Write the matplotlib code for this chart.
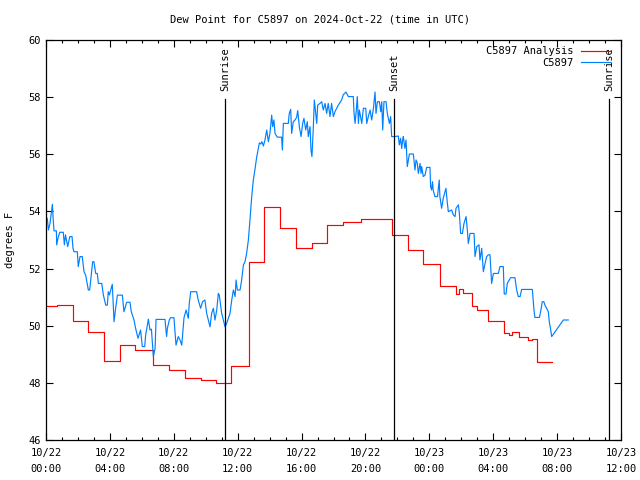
import matplotlib
matplotlib.use("Agg")
import matplotlib.pyplot as plt
from matplotlib.ticker import MultipleLocator, FixedLocator

# ---------------- data ----------------
title = "Dew Point for C5897 on 2024-Oct-22 (time in UTC)"
ylabel = "degrees F"
series_names = ["C5897 Analysis", "C5897"]

# analysis (hours since 2024-10-22 00:00 UTC, step starts)
red_hours = [0.0, 0.68, 1.68, 2.63, 3.63, 4.63, 5.57, 6.7, 7.7, 8.7, 9.7, 10.64,
             11.58, 12.7, 13.65, 14.65, 15.65, 16.65, 17.6, 18.6, 19.7, 21.66,
             22.66, 23.6, 24.67, 25.67, 25.85, 26.1, 26.67, 27.0, 27.7, 28.68,
             29.0, 29.2, 29.6, 30.2, 30.4, 30.72, 31.68]
red_vals = [50.69, 50.72, 50.15, 49.79, 48.77, 49.33, 49.15, 48.63, 48.45, 48.16,
            48.1, 47.98, 48.6, 52.22, 54.17, 53.41, 52.71, 52.88, 53.52, 53.64,
            53.72, 53.19, 52.64, 52.16, 51.39, 51.1, 51.27, 51.13, 50.69, 50.55,
            50.18, 49.76, 49.69, 49.77, 49.6, 49.5, 49.53, 48.72, 48.72]

# observations
blue_hours = [0.0, 0.08, 0.15, 0.25, 0.4, 0.44, 0.5, 0.65, 0.67, 0.75, 0.86, 1.08,
              1.15, 1.22, 1.36, 1.49, 1.63, 1.69, 1.75, 1.96, 2.02, 2.13, 2.27,
              2.38, 2.48, 2.65, 2.73, 2.79, 2.92, 3.0, 3.11, 3.21, 3.28, 3.49,
              3.59, 3.74, 3.84, 3.9, 3.97, 4.15, 4.26, 4.36, 4.47, 4.78, 4.88,
              5.05, 5.26, 5.34, 5.51, 5.61, 5.76, 5.92, 6.03, 6.18, 6.24, 6.41,
              6.51, 6.6, 6.72, 6.83, 6.89, 7.45, 7.55, 7.6, 7.72, 7.8, 8.01, 8.14,
              8.28, 8.39, 8.5, 8.64, 8.77, 8.91, 8.97, 9.06, 9.43, 9.53, 9.68,
              9.8, 9.95, 10.06, 10.16, 10.27, 10.37, 10.48, 10.58, 10.69, 10.79,
              10.85, 11.0, 11.21, 11.31, 11.52, 11.63, 11.73, 11.84, 11.9, 11.98,
              12.15, 12.25, 12.36, 12.46, 12.56, 12.67, 12.77, 12.88, 12.98,
              13.09, 13.19, 13.36, 13.44, 13.52, 13.61, 13.71, 13.82, 13.92,
              14.02, 14.13, 14.19, 14.27, 14.34, 14.48, 14.75, 14.8, 14.86,
              15.17, 15.23, 15.32, 15.38, 15.48, 15.59, 15.69, 15.76, 15.86,
              15.97, 16.07, 16.15, 16.26, 16.36, 16.42, 16.53, 16.59, 16.65,
              16.73, 16.8, 16.95, 17.01, 17.15, 17.26, 17.36, 17.47, 17.57,
              17.67, 17.78, 17.88, 17.99, 18.09, 18.2, 18.3, 18.51, 18.61, 18.78,
              18.93, 19.24, 19.28, 19.35, 19.41, 19.49, 19.56, 19.62, 19.77,
              19.87, 20.02, 20.08, 20.18, 20.29, 20.39, 20.5, 20.6, 20.66, 20.75,
              20.87, 20.96, 21.02, 21.08, 21.16, 21.29, 21.37, 21.5, 21.58,
              21.64, 21.85, 22.06, 22.12, 22.2, 22.27, 22.33, 22.37, 22.47,
              22.54, 22.58, 22.62, 22.75, 23.0, 23.1, 23.17, 23.25, 23.31, 23.42,
              23.48, 23.52, 23.62, 23.73, 23.83, 24.04, 24.08, 24.14, 24.2,
              24.24, 24.35, 24.51, 24.62, 24.66, 24.77, 24.87, 24.98, 25.04,
              25.13, 25.19, 25.4, 25.5, 25.61, 25.67, 25.82, 25.88, 25.96, 26.07,
              26.17, 26.3, 26.38, 26.44, 26.55, 26.8, 26.86, 26.97, 27.11, 27.17,
              27.28, 27.38, 27.49, 27.59, 27.69, 27.8, 27.9, 28.01, 28.32, 28.42,
              28.63, 28.69, 28.8, 28.88, 29.0, 29.09, 29.36, 29.47, 29.57, 29.68,
              29.78, 30.45, 30.55, 30.61, 30.89, 30.97, 31.07, 31.17, 31.24,
              31.34, 31.45, 31.51, 31.6, 31.66, 32.39, 32.7]
blue_vals = [53.76, 53.76, 53.35, 53.58, 54.25, 53.82, 53.32, 53.32, 52.83, 53.06,
             53.27, 53.27, 52.83, 53.18, 52.77, 53.12, 53.12, 52.71, 52.59, 52.59,
             52.07, 52.42, 52.42, 51.89, 51.78, 51.25, 51.25, 51.54, 52.24, 52.24,
             51.83, 51.83, 51.48, 51.48, 51.08, 50.72, 50.72, 51.19, 51.08, 51.45,
             50.14, 50.61, 51.07, 51.07, 50.49, 50.82, 50.82, 50.49, 50.2, 49.91,
             49.56, 49.85, 49.27, 49.27, 49.68, 50.23, 49.85, 49.88, 48.92, 49.21,
             50.22, 50.22, 49.62, 49.91, 50.2, 50.28, 50.28, 49.32, 49.62, 49.5,
             49.32, 50.28, 50.55, 50.26, 50.78, 51.19, 51.19, 50.9, 50.61, 50.84,
             50.9, 50.43, 50.2, 49.96, 50.43, 50.61, 50.2, 50.55, 51.13, 51.07,
             50.43, 49.96, 50.08, 50.43, 50.9, 51.25, 51.02, 51.6, 51.25, 51.25,
             51.6, 52.13, 52.24, 52.53, 53.0, 53.7, 54.52, 55.1, 55.5, 55.9, 56.4,
             56.36, 56.44, 56.29, 56.5, 56.85, 56.44, 56.73, 57.37, 56.97, 57.2,
             56.73, 56.6, 56.6, 56.15, 57.08, 57.08, 57.43, 57.57, 56.73, 57.14,
             57.2, 57.29, 57.53, 56.97, 56.62, 57.08, 57.26, 56.85, 57.14, 56.62,
             56.97, 56.15, 55.92, 56.85, 57.9, 57.08, 57.72, 57.78, 57.84, 57.55,
             57.78, 57.43, 57.78, 57.32, 57.78, 57.32, 57.49, 57.61, 57.72, 57.9,
             58.08, 58.18, 58.02, 58.02, 57.49, 57.08, 57.43, 58.02, 57.08, 57.55,
             57.08, 57.61, 57.61, 57.08, 57.32, 57.55, 57.2, 57.61, 58.18, 57.43,
             57.84, 57.84, 57.49, 57.84, 56.85, 57.84, 57.84, 57.43, 57.08, 57.32,
             56.62, 56.62, 56.64, 56.33, 56.56, 56.2, 56.5, 56.62, 56.21, 56.5,
             56.06, 55.57, 56.01, 56.01, 55.45, 55.8, 55.68, 55.33, 55.68, 55.33,
             55.57, 55.22, 55.27, 55.54, 55.54, 54.87, 54.75, 55.04, 54.75, 54.52,
             54.52, 55.1, 54.52, 54.11, 54.46, 54.69, 54.81, 54.28, 53.99, 54.05,
             53.88, 53.82, 54.11, 54.23, 53.93, 53.23, 53.23, 53.58, 53.82, 53.35,
             52.88, 53.23, 53.23, 52.42, 52.77, 52.83, 52.3, 52.71, 51.89, 52.18,
             52.42, 52.48, 52.48, 51.48, 51.83, 51.83, 52.07, 52.07, 51.11, 51.11,
             51.48, 51.6, 51.68, 51.68, 51.25, 51.02, 51.02, 51.27, 51.27, 50.55,
             50.29, 50.29, 50.49, 50.84, 50.84, 50.72, 50.61, 50.49, 50.14, 49.85,
             49.62, 50.2, 50.2]

sun_events = ["Sunrise", "Sunset", "Sunrise"]
sun_hours = [11.23, 21.81, 35.27]

x_ticks = [0, 4, 8, 12, 16, 20, 24, 28, 32, 36]
x_ticklabels = ["10/22\n00:00", "10/22\n04:00", "10/22\n08:00", "10/22\n12:00",
                "10/22\n16:00", "10/22\n20:00", "10/23\n00:00", "10/23\n04:00",
                "10/23\n08:00", "10/23\n12:00"]
y_ticks = [46, 48, 50, 52, 54, 56, 58, 60]

# ---------------- plot ----------------
FONT = "DejaVu Sans Mono"
plt.rcParams['font.family'] = FONT
plt.rcParams['font.size'] = 7

fig = plt.figure(figsize=(6.4, 4.8), dpi=100)
W, H = 640, 480
L, R, T, B = 46, 621, 40, 440
ax = fig.add_axes([L / W, (H - B) / H, (R - L) / W, (B - T) / H])

ax.set_xlim(0, 36)
ax.set_ylim(46, 60)

ax.plot(red_hours, red_vals, color="#ff0000", lw=0.85, drawstyle="steps-post",
        label=series_names[0])
ax.plot(blue_hours, blue_vals, color="#0080ff", lw=0.85, label=series_names[1])

for name, h in zip(sun_events, sun_hours):
    ax.plot([h, h], [46, 57.92], color="black", lw=0.9)
    ax.text(h, 57.92 + 0.3, name, rotation=90, ha="center", va="bottom",
            fontsize=7.5)

ax.xaxis.set_major_locator(FixedLocator(x_ticks))
ax.set_xticklabels(x_ticklabels, linespacing=1.75)
ax.xaxis.set_minor_locator(MultipleLocator(1))
ax.yaxis.set_major_locator(FixedLocator(y_ticks))
ax.set_yticklabels([str(v) for v in y_ticks])

ax.tick_params(axis="both", which="major", direction="in", length=5, width=0.8,
               top=True, right=True, labelsize=7.5, pad=4)
ax.tick_params(axis="x", which="major", pad=6)
ax.tick_params(axis="x", which="minor", direction="in", length=2.5, width=0.8,
               top=True, bottom=True)
for s in ax.spines.values():
    s.set_linewidth(0.9)

fig.text(0.5, 1 - 19 / H, title, ha="center", va="center", fontsize=7.5)
fig.text(10 / W, 1 - 240 / H, ylabel, rotation=90, ha="center", va="center",
         fontsize=7.5)

leg = ax.legend(loc="upper right", frameon=False, fontsize=7.5, handlelength=2.7,
                markerfirst=False, borderaxespad=0.2, labelspacing=0.15,
                handletextpad=0.8, bbox_to_anchor=(0.991, 1.0))
for t in leg.get_texts():
    t.set_ha("right")
leg._legend_box.align = "right"

fig.savefig("out.png", dpi=100)
